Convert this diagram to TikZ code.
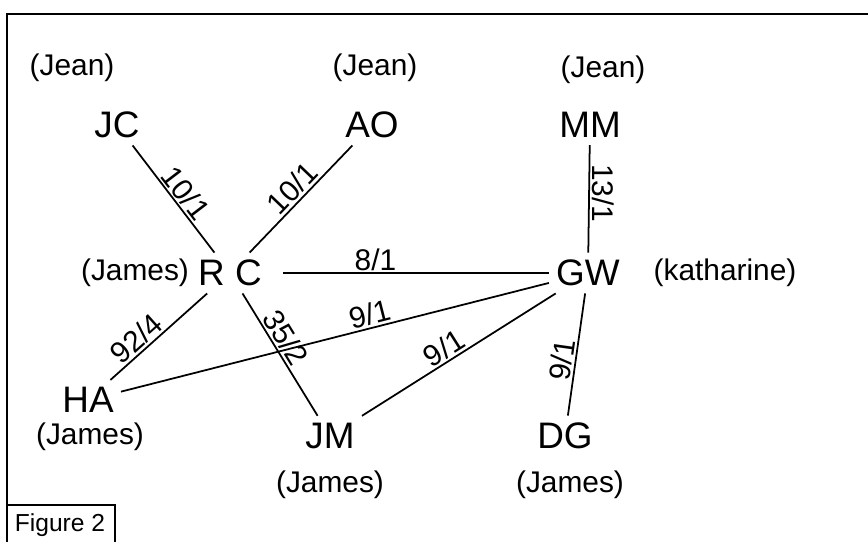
\documentclass[tikz,border=0pt]{standalone}
\usepackage{fontspec}
\setmainfont{Liberation Sans}

\begin{document}
\begin{tikzpicture}[
        x=0.02cm, y=-0.02cm,
        person/.style={font=\fontsize{21}{25}\selectfont, inner sep=4pt},
        team/.style={font=\fontsize{17}{20}\selectfont, inner sep=2pt},
        link/.style={line width=1pt, draw=black},
        weight/.style={font=\fontsize{17}{20}\selectfont, inner sep=1pt}
    ]
        \useasboundingbox (0,0) rectangle (868,542);

        % --- Moldura ---
        \draw[line width=1.2pt] (7,542) -- (7,14) -- (868,14);
        \draw[line width=1pt] (7,505) -- (115,505) -- (115,542);
        \node[team, font=\fontsize{14}{17}\selectfont] (fig) at (60,525) {Figure 2};

        % --- Pessoas ---
        \node[person] (jc) at (117,125) {JC};
        \node[person] (ao) at (372,125) {AO};
        \node[person] (mm) at (590,125) {MM};
        \node[person] (rc) at (230,273) {R C};
        \node[person] (gw) at (588,273) {GW};
        \node[person] (ha) at (88,400)  {HA};
        \node[person] (jm) at (330,436) {JM};
        \node[person] (dg) at (565,436) {DG};

        % --- Equipas ---
        \node[team] (jcteam) at (72,68)   {(Jean)};
        \node[team] (aoteam) at (375,68)  {(Jean)};
        \node[team] (mmteam) at (603,70)  {(Jean)};
        \node[team] (rcteam) at (135,273) {(James)};
        \node[team] (gwteam) at (725,273) {(katharine)};
        \node[team] (hateam) at (90,437)  {(James)};
        \node[team] (jmteam) at (330,485) {(James)};
        \node[team] (dgteam) at (570,485) {(James)};

        % --- Ligações ---
        \draw[link] (jc) -- (rc) node[weight, sloped, above, pos=0.52] {10/1};
        \draw[link] (ao) -- (rc) node[weight, sloped, above, pos=0.49] {10/1};
        \draw[link] (mm) -- (gw) node[weight, rotate=-90, above, pos=0.45] {13/1};
        \draw[link, shorten <=8pt] (rc) -- (gw) node[weight, above, pos=0.38] {8/1};
        \draw[link] (ha) -- (rc) node[weight, sloped, above, pos=0.36] {92/4};
        \draw[link] (rc) -- (jm) node[weight, sloped, above, pos=0.42] {35/2};
        \draw[link] (ha) -- (gw) node[weight, sloped, above, pos=0.59] {9/1};
        \draw[link] (jm) -- (gw) node[weight, sloped, above, pos=0.46] {9/1};
        \draw[link] (dg) -- (gw) node[weight, sloped, above, pos=0.44] {9/1};

    \end{tikzpicture}
\end{document}
